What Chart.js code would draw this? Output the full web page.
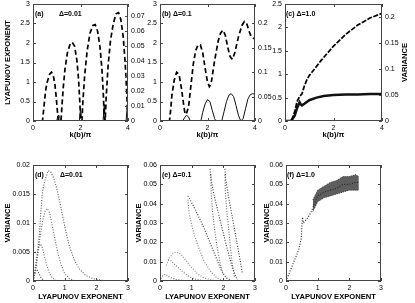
<!DOCTYPE html>
<html>
<head>
<meta charset="utf-8">
<script src="https://cdn.jsdelivr.net/npm/chart.js@4.4.0/dist/chart.umd.min.js"></script>
<style>
html, body { margin: 0; padding: 0; background: #fff; }
#fig { position: relative; width: 415px; height: 303px; overflow: hidden; }
#fig div { position: absolute; }
</style>
</head>
<body>
<div id="fig"></div>
<script>
// (a) delta = 0.01
const aK    = [0, 0.40, 0.45, 0.5, 0.55, 0.6, 0.7, 0.78, 0.85, 0.92, 0.98, 1.02, 1.06, 1.1, 1.18, 1.22, 1.28, 1.35, 1.45, 1.55, 1.65, 1.75, 1.85, 1.92, 1.97, 2.0, 2.03, 2.06, 2.1, 2.18, 2.28, 2.4, 2.52, 2.62, 2.72, 2.82, 2.9, 2.96, 3.0, 3.04, 3.08, 3.16, 3.26, 3.38, 3.5, 3.6, 3.7, 3.8, 3.88, 3.94, 3.98, 4.0];
const aLyap = [0, 0, 0.3, 0.6, 0.85, 1.0, 1.2, 1.25, 1.18, 0.95, 0.6, 0.3, 0.05, 0, 0, 0.4, 0.9, 1.35, 1.75, 1.95, 2.02, 1.92, 1.55, 1.05, 0.5, 0.1, 0, 0, 0.5, 1.2, 1.8, 2.25, 2.45, 2.47, 2.3, 1.9, 1.35, 0.7, 0.1, 0, 0.6, 1.4, 2.05, 2.5, 2.75, 2.78, 2.6, 2.15, 1.5, 0.8, 0.2, 0];
const aVarK = [0, 1.0, 1.04, 1.08, 1.12, 1.16, 1.95, 2.0, 2.05, 2.95, 3.0, 3.05, 3.92, 3.96, 4.0];
const aVar  = [0, 0, 0.003, 0.004, 0.003, 0, 0, 0.008, 0, 0, 0.011, 0, 0, 0.008, 0.014];

// (b) delta = 0.1
const bK    = [0, 0.4, 0.45, 0.5, 0.6, 0.7, 0.8, 0.9, 1.0, 1.05, 1.1, 1.2, 1.3, 1.4, 1.5, 1.6, 1.7, 1.8, 1.9, 2.0, 2.08, 2.15, 2.3, 2.45, 2.55, 2.65, 2.75, 2.85, 2.95, 3.05, 3.15, 3.3, 3.45, 3.55, 3.65, 3.75, 3.85, 4.0];
const bLyap = [0, 0, 0.3, 0.65, 1.05, 1.25, 1.2, 0.85, 0.4, 0.2, 0.17, 0.35, 0.9, 1.45, 1.8, 1.95, 1.95, 1.75, 1.35, 1.0, 0.88, 0.95, 1.55, 2.05, 2.25, 2.33, 2.2, 1.9, 1.65, 1.58, 1.75, 2.15, 2.45, 2.55, 2.5, 2.3, 2.15, 2.1];
const bVarK = [0, 0.95, 1.05, 1.12, 1.2, 1.28, 1.72, 1.8, 1.9, 2.0, 2.1, 2.2, 2.3, 2.35, 2.6, 2.7, 2.8, 2.9, 3.0, 3.1, 3.2, 3.3, 3.4, 3.5, 3.6, 3.7, 3.8, 3.9, 4.0];
const bVar  = [0, 0, 0.008, 0.012, 0.008, 0, 0, 0.018, 0.035, 0.044, 0.04, 0.022, 0.005, 0, 0, 0.02, 0.04, 0.053, 0.056, 0.05, 0.032, 0.012, 0, 0.005, 0.025, 0.045, 0.054, 0.056, 0.055];

// (c) delta = 1.0
const cK    = [0, 0.2, 0.3, 0.4, 0.5, 0.6, 0.7, 0.8, 0.9, 1.0, 1.2, 1.5, 2.0, 2.5, 3.0, 3.5, 4.0];
const cLyap = [0, 0, 0.05, 0.2, 0.42, 0.52, 0.58, 0.75, 0.88, 0.97, 1.1, 1.3, 1.6, 1.85, 2.05, 2.2, 2.3];
const cVarK = [0, 0.25, 0.4, 0.5, 0.6, 0.65, 0.7, 0.8, 1.0, 1.3, 1.6, 2.0, 2.5, 3.0, 3.5, 4.0];
const cVar  = [0, 0, 0.01, 0.025, 0.036, 0.032, 0.03, 0.033, 0.04, 0.045, 0.048, 0.05, 0.051, 0.051, 0.052, 0.052];

// (d) variance vs lyapunov, delta = 0.01
const d1L = [0, 0.05, 0.1, 0.15, 0.2, 0.25, 0.3, 0.38, 0.48, 0.56, 0.65, 0.75, 0.85, 0.95, 1.05, 1.15, 1.3, 1.45, 1.65, 1.9, 2.2, 2.6, 2.9];
const d1V = [0, 0.001, 0.0025, 0.005, 0.008, 0.012, 0.0155, 0.0175, 0.019, 0.0188, 0.0178, 0.016, 0.0135, 0.0108, 0.0082, 0.006, 0.0037, 0.0022, 0.001, 0.0004, 0.0001, 0, 0];
const d2L = [0, 0.08, 0.15, 0.22, 0.3, 0.38, 0.45, 0.52, 0.6, 0.7, 0.8, 0.9, 1.0, 1.15, 1.3, 1.5];
const d2V = [0, 0.002, 0.0045, 0.0075, 0.0102, 0.012, 0.0125, 0.0118, 0.0098, 0.007, 0.0045, 0.0026, 0.0013, 0.0004, 0.0001, 0];
const d3L = [0, 0.05, 0.1, 0.16, 0.22, 0.28, 0.35, 0.42, 0.5, 0.6, 0.75];
const d3V = [0, 0.0015, 0.0035, 0.0055, 0.0064, 0.006, 0.0045, 0.003, 0.0016, 0.0006, 0];
const d4L = [0, 0.04, 0.08, 0.12, 0.18, 0.25, 0.35];
const d4V = [0, 0.001, 0.0018, 0.002, 0.0014, 0.0006, 0];

// (e) delta = 0.1
const e1L = [0, 0.05, 0.1, 0.18, 0.3, 0.5, 0.8, 1.0];
const e1V = [0, 0.002, 0.003, 0.0035, 0.002, 0.0008, 0.0002, 0];
const e2L = [0.2, 0.3, 0.4, 0.5, 0.65, 0.8, 1.0, 1.2, 1.4, 1.7, 1.9];
const e2V = [0.008, 0.012, 0.014, 0.015, 0.014, 0.011, 0.007, 0.0035, 0.0015, 0.0003, 0];
const e3L = [0.25, 0.35, 0.5, 0.7, 0.9, 1.1, 1.4];
const e3V = [0.011, 0.0105, 0.008, 0.005, 0.0025, 0.001, 0];
const e4L = [0.88, 0.95, 1.05, 1.2, 1.4, 1.6, 1.8, 1.95, 2.1, 2.3];
const e4V = [0.044, 0.042, 0.039, 0.034, 0.027, 0.019, 0.011, 0.005, 0.0015, 0];
const e5L = [0.88, 0.92, 1.0, 1.1, 1.25, 1.4, 1.6, 1.8, 2.0];
const e5V = [0.042, 0.035, 0.029, 0.023, 0.016, 0.01, 0.005, 0.0015, 0];
const e6L = [1.58, 1.62, 1.7, 1.8, 1.95, 2.1, 2.25, 2.4, 2.45];
const e6V = [0.058, 0.052, 0.045, 0.038, 0.028, 0.018, 0.009, 0.002, 0];
const e7L = [2.05, 2.08, 2.15, 2.25, 2.35, 2.45, 2.55, 2.6];
const e7V = [0.058, 0.052, 0.045, 0.036, 0.027, 0.018, 0.009, 0.004];
const e8L = [2.05, 2.06, 2.1, 2.16, 2.22, 2.28, 2.35];
const e8V = [0.055, 0.047, 0.038, 0.028, 0.018, 0.009, 0.002];
const e9L = [1.6, 1.62, 1.66, 1.72, 1.8, 1.9, 2.0];
const e9V = [0.055, 0.045, 0.036, 0.027, 0.018, 0.009, 0.003];

// (f) delta = 1.0
const fL    = [0, 0.1, 0.2, 0.3, 0.4, 0.48, 0.52, 0.55, 0.6, 0.7, 0.8, 0.9, 1.0, 1.2, 1.4, 1.6, 1.8, 2.0, 2.2, 2.3];
const fVar  = [0, 0.004, 0.008, 0.012, 0.016, 0.022, 0.033, 0.03, 0.031, 0.033, 0.036, 0.04, 0.044, 0.046, 0.047, 0.048, 0.05, 0.05, 0.051, 0.051];
const fBandL = [0.85, 1.0, 1.2, 1.4, 1.6, 1.8, 2.0, 2.2, 2.3];
const fHi    = [0.042, 0.047, 0.049, 0.051, 0.052, 0.054, 0.054, 0.055, 0.054];
const fLo    = [0.036, 0.041, 0.043, 0.044, 0.045, 0.046, 0.047, 0.047, 0.047];

const FONT = "'Liberation Sans', Arial, Helvetica, sans-serif";
const TICK_FONT = { family: FONT, size: 7 };
const TITLE_FONT = { family: FONT, size: 7.6, weight: 'bold' };

function pts(xs, ys) { return xs.map((x, i) => ({ x: x, y: ys[i] })); }
// matlab style tick text: 0.02 not 0.020
function tickText(v) { return String(Math.round(v * 1e6) / 1e6); }

function dashed(xs, ys) {
  return { data: pts(xs, ys), borderColor: '#000', borderWidth: 1.7, borderDash: [5, 3], yAxisID: 'y' };
}
function solid(xs, ys, w) {
  return { data: pts(xs, ys), borderColor: '#111', borderWidth: w || 1, yAxisID: 'y2' };
}
function dots(xs, ys, col) {
  return { data: pts(xs, ys), borderColor: col || '#666', borderWidth: 1.1, borderDash: [1, 1.6], yAxisID: 'y' };
}

// box, inward ticks, panel labels
const framePlugin = {
  id: 'frame',
  afterDatasetsDraw(chart, args, opts) {
    const { ctx, chartArea: a, scales } = chart;
    ctx.save();
    ctx.strokeStyle = '#444';
    ctx.lineWidth = 1;
    ctx.strokeRect(a.left + 0.5, a.top + 0.5, a.right - a.left - 1, a.bottom - a.top - 1);
    ctx.beginPath();
    scales.x.ticks.forEach(t => {
      const px = Math.round(scales.x.getPixelForValue(t.value)) + 0.5;
      ctx.moveTo(px, a.bottom); ctx.lineTo(px, a.bottom - 3);
      ctx.moveTo(px, a.top); ctx.lineTo(px, a.top + 3);
    });
    scales.y.ticks.forEach(t => {
      const py = Math.round(scales.y.getPixelForValue(t.value)) + 0.5;
      ctx.moveTo(a.left, py); ctx.lineTo(a.left + 3, py);
      if (!scales.y2) { ctx.moveTo(a.right, py); ctx.lineTo(a.right - 3, py); }
    });
    if (scales.y2) {
      scales.y2.ticks.forEach(t => {
        const py = Math.round(scales.y2.getPixelForValue(t.value)) + 0.5;
        ctx.moveTo(a.right, py); ctx.lineTo(a.right - 3, py);
      });
    }
    ctx.stroke();
    ctx.fillStyle = '#000';
    ctx.textBaseline = 'middle';
    ctx.font = 'bold 7px ' + FONT;
    (opts.notes || []).forEach(n => ctx.fillText(n[0], a.left + n[1], a.top + n[2]));
    if (opts.side) {
      ctx.font = 'bold 7.6px ' + FONT;
      ctx.textAlign = 'center';
      ctx.translate(a.right + opts.side[1], (a.top + a.bottom) / 2);
      ctx.rotate(-Math.PI / 2);
      ctx.fillText(opts.side[0], 0, 0);
    }
    ctx.restore();
  }
};

function yScale(pos, max, step, width, title, pad) {
  return {
    type: 'linear', position: pos, min: 0, max: max,
    afterFit: s => { s.width = width; },
    grid: { display: false, drawTicks: false }, border: { display: false },
    ticks: { stepSize: step, padding: 3, includeBounds: false, font: TICK_FONT, color: '#000', callback: tickText },
    title: { display: !!title, text: title || '', font: TITLE_FONT, color: '#000', padding: { top: pad || 0, bottom: 0 } }
  };
}

function panel(p) {
  const [x0, y0, x1, y1] = p.box;
  const T = 10;
  const w = x1 - x0 + p.L + p.R, h = y1 - y0 + T + p.B;
  const div = document.createElement('div');
  div.style.left = (x0 - p.L) + 'px';
  div.style.top = (y0 - T) + 'px';
  const cv = document.createElement('canvas');
  cv.width = w; cv.height = h;
  div.appendChild(cv);
  document.getElementById('fig').appendChild(div);

  const scales = {
    x: {
      type: 'linear', min: 0, max: p.xMax,
      afterFit: s => { s.height = p.B; },
      grid: { display: false, drawTicks: false }, border: { display: false },
      ticks: { stepSize: p.xStep, padding: 3, maxRotation: 0, font: TICK_FONT, color: '#000', callback: tickText },
      title: { display: true, text: p.xTitle, font: TITLE_FONT, color: '#000', padding: { top: 0, bottom: 1.5 } }
    },
    y: yScale('left', p.yMax, p.yStep, p.L, p.yTitle, p.yPad)
  };
  if (p.y2Max) scales.y2 = yScale('right', p.y2Max, p.y2Step, p.R);

  new Chart(cv, {
    type: 'line',
    data: { datasets: p.datasets },
    options: {
      responsive: false,
      animation: false,
      elements: { point: { radius: 0 }, line: { tension: 0 } },
      layout: { padding: { top: T, right: p.y2Max ? 0 : p.R, left: 0, bottom: 0 } },
      scales: scales,
      plugins: {
        legend: { display: false },
        tooltip: { enabled: false },
        frame: { notes: p.notes, side: p.side }
      }
    },
    plugins: [framePlugin]
  });
}

const kTitle = 'k(b)/\u03c0';
const lTitle = 'LYAPUNOV EXPONENT';

panel({
  box: [33, 4, 128, 121], L: 33, R: 22, B: 20,
  xMax: 4, xStep: 2, xTitle: kTitle,
  yMax: 3, yStep: 0.5, yTitle: lTitle, yPad: 3.5,
  y2Max: 0.078, y2Step: 0.01,
  datasets: [dashed(aK, aLyap), solid(aVarK, aVar)],
  notes: [['(a)', 2, 10], ['\u0394=0.01', 26, 10]]
});
panel({
  box: [160, 4, 255, 121], L: 25, R: 25, B: 20,
  xMax: 4, xStep: 2, xTitle: kTitle,
  yMax: 3, yStep: 0.5,
  y2Max: 0.24, y2Step: 0.05,
  datasets: [dashed(bK, bLyap), solid(bVarK, bVar)],
  notes: [['(b) \u0394=0.1', 2, 10]]
});
panel({
  box: [285, 4, 382, 121], L: 20, R: 33, B: 20,
  xMax: 4, xStep: 2, xTitle: kTitle,
  yMax: 2.5, yStep: 0.5,
  y2Max: 0.225, y2Step: 0.05,
  datasets: [Object.assign(dashed(cK, cLyap), { borderDash: [5, 1.5] }), solid(cVarK, cVar, 2.5)],
  notes: [['(c) \u0394=1.0', 1, 10]],
  side: ['VARIANCE', 23]
});
panel({
  box: [33, 165, 128, 281], L: 33, R: 10, B: 22,
  xMax: 3, xStep: 1, xTitle: lTitle,
  yMax: 0.02, yStep: 0.005, yTitle: 'VARIANCE', yPad: 3.5,
  datasets: [dots(d1L, d1V, '#555'), dots(d2L, d2V), dots(d3L, d3V), dots(d4L, d4V, '#333')],
  notes: [['(d)', 2, 10], ['\u0394=0.01', 27, 10]]
});
panel({
  box: [160, 165, 255, 281], L: 26, R: 10, B: 22,
  xMax: 3, xStep: 1, xTitle: lTitle,
  yMax: 0.06, yStep: 0.01, yTitle: 'VARIANCE', yPad: 0.5,
  datasets: [dots(e1L, e1V), dots(e2L, e2V, '#888'), dots(e3L, e3V), dots(e4L, e4V, '#333'), dots(e5L, e5V, '#777'),
             dots(e6L, e6V, '#333'), dots(e7L, e7V, '#333'), dots(e8L, e8V, '#666'), dots(e9L, e9V, '#666')],
  notes: [['(e) \u0394=0.1', 2, 10]]
});
panel({
  box: [286, 165, 381, 281], L: 24, R: 10, B: 22,
  xMax: 3, xStep: 1, xTitle: lTitle,
  yMax: 0.06, yStep: 0.01, yTitle: 'VARIANCE', yPad: 0.5,
  datasets: [
    dots(fL, fVar, '#222'),
    { data: pts(fBandL, fHi), borderColor: '#333', borderWidth: 1, borderDash: [1, 1], yAxisID: 'y' },
    { data: pts(fBandL, fLo), borderColor: '#333', borderWidth: 1, borderDash: [1, 1], yAxisID: 'y', fill: '-1', backgroundColor: 'rgba(25,25,25,0.7)' }
  ],
  notes: [['(f) \u0394=1.0', 1, 10]]
});
</script>
</body>
</html>
